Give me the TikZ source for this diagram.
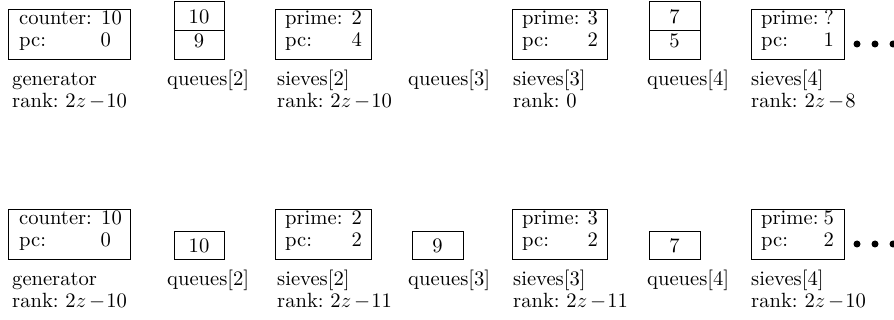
\documentclass[tikz,border=0pt]{standalone}
\DeclareFontFamily{TU}{lmten}{}
\DeclareFontShape{TU}{lmten}{m}{n}{<-> "[lmroman10-regular]"}{}
\newcommand{\rk}[1]{rank: 2$z$\hspace{3pt}$\mathord{-}$\hspace{1pt}#1}
\begin{document}
\begin{tikzpicture}[x=1pt,y=-1pt,
  every node/.style={font=\fontfamily{lmten}\fontsize{20.6}{24}\selectfont\frenchspacing},
  box/.style={draw, line width=0.8pt, inner sep=0pt, anchor=north west},
  procbox/.style={box, minimum height=50pt},
  qbox/.style={box, minimum height=28pt},
  txt/.style={inner sep=0pt, anchor=base west},
  val/.style={inner sep=0pt, anchor=base east},
  qval/.style={inner sep=0pt, anchor=base},
  dot/.style={circle, fill=black, inner sep=0pt, minimum size=7pt}
]
\useasboundingbox (0,0) rectangle (894,320);

% ===== top row =====
\node[procbox, minimum width=122pt] (g1) at (8,9) {};
\node[txt] (g1a) at (19,25) {counter:};
\node[val] (g1b) at (122,25) {10};
\node[txt] (g1c) at (19,47) {pc:};
\node[val] (g1d) at (111,47) {0};

\node[box, minimum width=50pt, minimum height=58pt] (q21) at (174,1) {};
\draw[line width=0.8pt] (q21.west |- 0,30) coordinate (q21l) -- (q21.east |- 0,30) coordinate (q21r);
\node[qval] (q21a) at (199,24) {10};
\node[qval] (q21b) at (199,48) {9};

\node[procbox, minimum width=96pt] (s21) at (275,9) {};
\node[txt] (s21a) at (285,25) {prime:};
\node[val] (s21b) at (362,25) {2};
\node[txt] (s21c) at (285,47) {pc:};
\node[val] (s21d) at (362,47) {4};

\node[procbox, minimum width=95pt] (s31) at (512,9) {};
\node[txt] (s31a) at (522,25) {prime:};
\node[val] (s31b) at (598,25) {3};
\node[txt] (s31c) at (522,47) {pc:};
\node[val] (s31d) at (598,47) {2};

\node[box, minimum width=51pt, minimum height=58pt] (q41) at (649,1) {};
\draw[line width=0.8pt] (q41.west |- 0,30) coordinate (q41l) -- (q41.east |- 0,30) coordinate (q41r);
\node[qval] (q41a) at (674.5,24) {7};
\node[qval] (q41b) at (674.5,48) {5};

\node[procbox, minimum width=93pt] (s41) at (751,9) {};
\node[txt] (s41a) at (761,25) {prime:};
\node[val] (s41b) at (834,25) {?};
\node[txt] (s41c) at (761,47) {pc:};
\node[val] (s41d) at (834,47) {1};

\node[dot] (d11) at (857,44) {};
\node[dot] (d12) at (875,44) {};
\node[dot] (d13) at (893,44) {};

\node[txt] (l1a) at (12,86) {generator};
\node[txt] (l1b) at (12,108) {\rk{10}};
\node[txt] (l1c) at (167,86) {queues[2]};
\node[txt] (l1d) at (277,86) {sieves[2]};
\node[txt] (l1e) at (277,108) {\rk{10}};
\node[txt] (l1f) at (408,86) {queues[3]};
\node[txt] (l1g) at (513,86) {sieves[3]};
\node[txt] (l1h) at (513,108) {rank: 0};
\node[txt] (l1i) at (647,86) {queues[4]};
\node[txt] (l1j) at (751,86) {sieves[4]};
\node[txt] (l1k) at (751,108) {\rk{8}};

% ===== bottom row =====
\node[procbox, minimum width=122pt] (g2) at (8,209) {};
\node[txt] (g2a) at (19,225) {counter:};
\node[val] (g2b) at (122,225) {10};
\node[txt] (g2c) at (19,247) {pc:};
\node[val] (g2d) at (111,247) {0};

\node[qbox, minimum width=50pt] (q22) at (174,231) {};
\node[qval] (q22a) at (199,253) {10};

\node[procbox, minimum width=96pt] (s22) at (275,209) {};
\node[txt] (s22a) at (285,225) {prime:};
\node[val] (s22b) at (362,225) {2};
\node[txt] (s22c) at (285,247) {pc:};
\node[val] (s22d) at (362,247) {2};

\node[qbox, minimum width=51pt] (q32) at (412,231) {};
\node[qval] (q32a) at (437.5,253) {9};

\node[procbox, minimum width=95pt] (s32) at (512,209) {};
\node[txt] (s32a) at (522,225) {prime:};
\node[val] (s32b) at (598,225) {3};
\node[txt] (s32c) at (522,247) {pc:};
\node[val] (s32d) at (598,247) {2};

\node[qbox, minimum width=51pt] (q42) at (649,231) {};
\node[qval] (q42a) at (674.5,253) {7};

\node[procbox, minimum width=93pt] (s42) at (751,209) {};
\node[txt] (s42a) at (761,225) {prime:};
\node[val] (s42b) at (834,225) {5};
\node[txt] (s42c) at (761,247) {pc:};
\node[val] (s42d) at (834,247) {2};

\node[dot] (d21) at (857,244) {};
\node[dot] (d22) at (875,244) {};
\node[dot] (d23) at (893,244) {};

\node[txt] (l2a) at (12,286) {generator};
\node[txt] (l2b) at (12,308) {\rk{10}};
\node[txt] (l2c) at (167,286) {queues[2]};
\node[txt] (l2d) at (277,286) {sieves[2]};
\node[txt] (l2e) at (277,308) {\rk{11}};
\node[txt] (l2f) at (408,286) {queues[3]};
\node[txt] (l2g) at (513,286) {sieves[3]};
\node[txt] (l2h) at (513,308) {\rk{11}};
\node[txt] (l2i) at (647,286) {queues[4]};
\node[txt] (l2j) at (751,286) {sieves[4]};
\node[txt] (l2k) at (751,308) {\rk{10}};
\end{tikzpicture}
\end{document}
